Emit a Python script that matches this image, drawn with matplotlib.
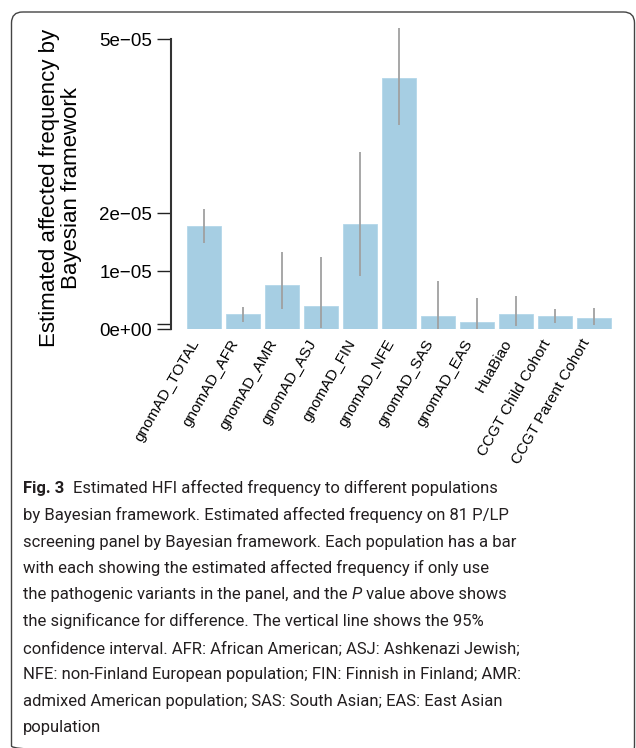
import matplotlib
matplotlib.use("Agg")
import matplotlib.pyplot as plt
import matplotlib.patches as pat
import matplotlib.transforms as mtrans
import numpy as np

W, H = 636, 748

populations = ["gnomAD_TOTAL", "gnomAD_AFR", "gnomAD_AMR", "gnomAD_ASJ", "gnomAD_FIN",
               "gnomAD_NFE", "gnomAD_SAS", "gnomAD_EAS", "HuaBiao",
               "CCGT Child Cohort", "CCGT Parent Cohort"]
# estimated affected frequency (x1e-05) and 95% CI
freq = [1.78, 0.26, 0.76, 0.40, 1.81, 4.33, 0.23, 0.13, 0.26, 0.23, 0.195]
ci_low = [1.49, 0.13, 0.35, 0.03, 0.92, 3.53, 0.01, 0.0, 0.06, 0.115, 0.075]
ci_high = [2.08, 0.39, 1.34, 1.24, 3.06, 5.19, 0.83, 0.54, 0.575, 0.35, 0.37]
yticks = [0, 1e-05, 2e-05, 5e-05]
ytick_labels = ["0e+00", "1e\u221205", "2e\u221205", "5e\u221205"]

caption = [
    "by Bayesian framework. Estimated affected frequency on 81 P/LP",
    "screening panel by Bayesian framework. Each population has a bar",
    "with each showing the estimated affected frequency if only use",
    None,
    "the significance for difference. The vertical line shows the 95%",
    "confidence interval. AFR: African American; ASJ: Ashkenazi Jewish;",
    "NFE: non-Finland European population; FIN: Finnish in Finland; AMR:",
    "admixed American population; SAS: South Asian; EAS: East Asian",
    "population",
]

fig = plt.figure(figsize=(W / 100, H / 100), dpi=100)

# background layer in pixel coords
bg = fig.add_axes([0, 0, 1, 1])
bg.set_xlim(0, W)
bg.set_ylim(H, 0)
bg.axis("off")
bg.add_patch(pat.FancyBboxPatch((11.5, 12), 623, 745, boxstyle="round,pad=0,rounding_size=11",
                                fill=False, edgecolor="#444444", linewidth=1.0))

# chart axes
y0, y_top, px_per = 329.3, 20, 58.0
x_left, x_right, first_c, step = 171, 622, 204.2, 39.0
ax = fig.add_axes([x_left / W, 1 - y0 / H, (x_right - x_left) / W, (y0 - y_top) / H])
ax.set_xlim(-(first_c - x_left) / step, (x_right - first_c) / step)
ax.set_ylim(0, (y0 - y_top) / px_per * 1e-05)

x = np.arange(len(populations))
f = np.array(freq) * 1e-05
lo = np.array(ci_low) * 1e-05
hi = np.array(ci_high) * 1e-05
ax.bar(x, f, width=0.865, color="#a6cee3", edgecolor="#b4d7ea", linewidth=0.6, zorder=2)
ax.vlines(x, lo, hi, color="#a0a0a0", linewidth=1.3, zorder=3)

for s in ["top", "right", "bottom"]:
    ax.spines[s].set_visible(False)
ax.spines["left"].set_bounds(0, 5e-05)
ax.spines["left"].set_linewidth(1.5)
ax.spines["left"].set_color("#333333")

ax.set_yticks(yticks)
ax.set_yticklabels(ytick_labels, family="Liberation Sans", fontsize=13.5)
ax.set_yticks([0.09e-05], minor=True)
ax.tick_params(axis="y", which="both", length=10, width=1.0, color="#222222", pad=3.5)

ax.set_xticks(x)
ax.set_xticklabels(populations, rotation=60, ha="right", va="center", rotation_mode="anchor",
                   family="Liberation Sans", fontsize=11)
ax.tick_params(axis="x", length=0, pad=8)
shift = mtrans.ScaledTranslation(-8 / 100, 0, fig.dpi_scale_trans)
for lab in ax.get_xticklabels():
    lab.set_transform(lab.get_transform() + shift)

fig.text(60.5 / W, 1 - 188 / H, "Estimated affected frequency by\nBayesian framework",
         rotation=90, ha="center", va="center", family="Liberation Sans", fontsize=16,
         linespacing=1.12)

# caption
renderer = fig.canvas.get_renderer()
cap_font = "Roboto"
cap_col = "#231f20"
probe = bg.text(0, 0, caption[6], family=cap_font, fontsize=10)
w10 = probe.get_window_extent(renderer).width
probe.remove()
fs = 10 * 500.0 / w10

cx = 22.7
line_y = [488.3 + 26.63 * i for i in range(10)]

t = bg.text(cx, line_y[0], "Fig. 3", family=cap_font, fontsize=fs, weight="bold",
            color=cap_col, va="center")
wb = t.get_window_extent(renderer).width
bg.text(cx + wb + 9, line_y[0], "Estimated HFI affected frequency to different populations",
        family=cap_font, fontsize=fs, color=cap_col, va="center")

for i, line in enumerate(caption):
    yy = line_y[i + 1]
    if line is None:
        a = bg.text(cx, yy, "the pathogenic variants in the panel, and the ", family=cap_font,
                    fontsize=fs, color=cap_col, va="center")
        wa = a.get_window_extent(renderer).width
        p = bg.text(cx + wa, yy, "P", family=cap_font, fontsize=fs, style="italic",
                    color=cap_col, va="center")
        wp = p.get_window_extent(renderer).width
        bg.text(cx + wa + wp, yy, " value above shows", family=cap_font, fontsize=fs,
                color=cap_col, va="center")
    else:
        bg.text(cx, yy, line, family=cap_font, fontsize=fs, color=cap_col, va="center")

fig.savefig("out.png", dpi=100)
